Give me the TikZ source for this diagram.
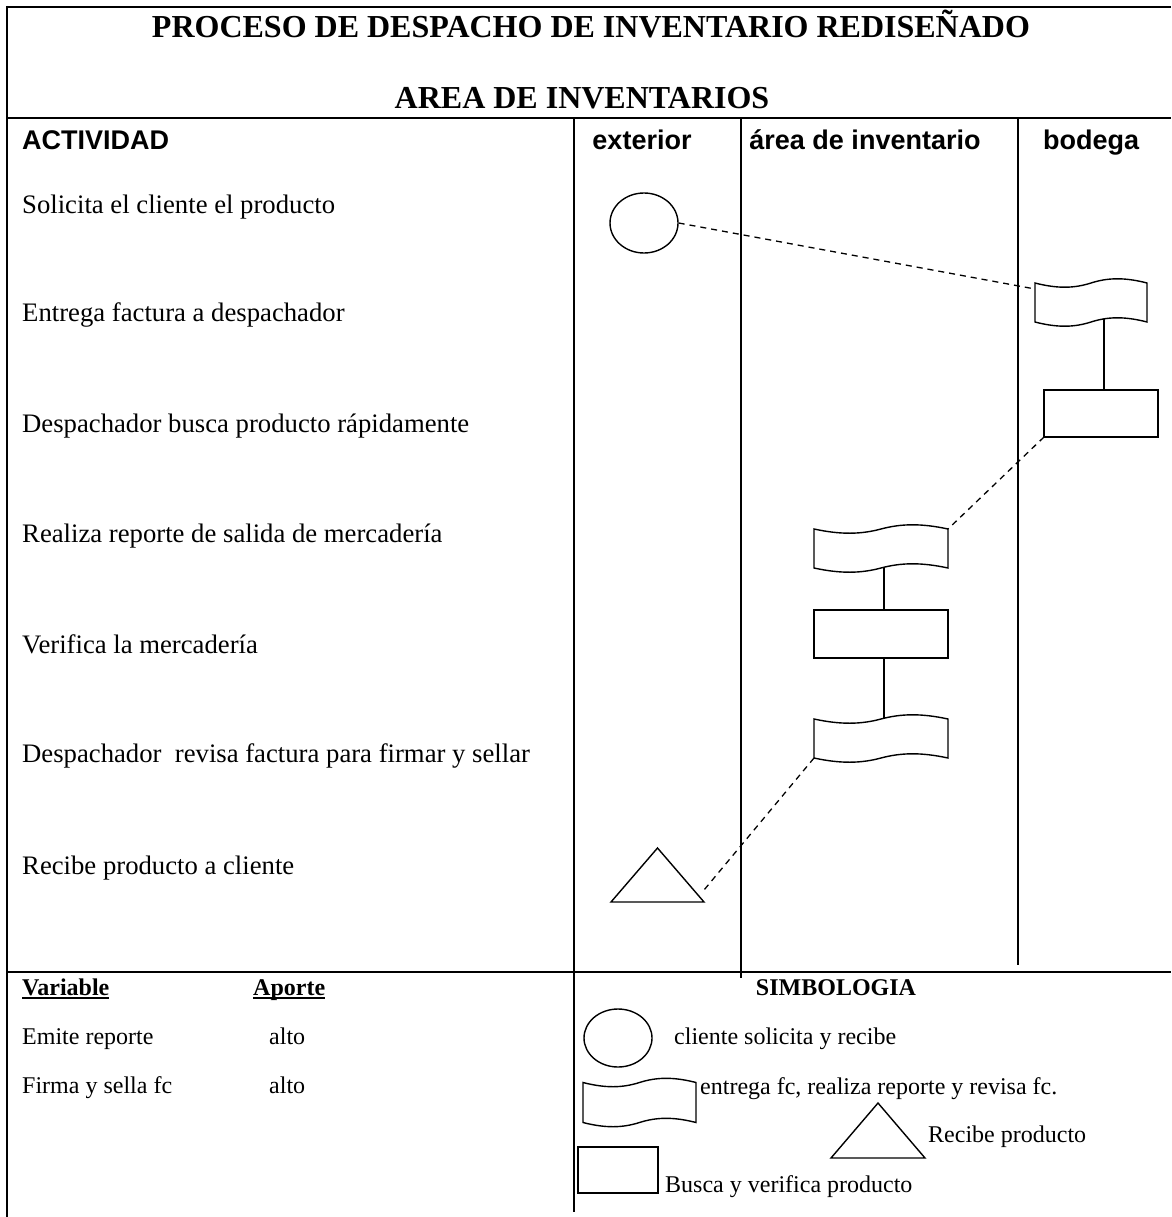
\documentclass[tikz,border=0pt]{standalone}
\usepackage{fontspec}
\setmainfont{Liberation Serif}
\newfontfamily\headfont{Liberation Sans}
\usetikzlibrary{calc,shapes.geometric}

% wavy "punched tape" outline drawn over an invisible box node
\newcommand\tapeoutline[1]{%
  \draw[shp] let \p1=($(#1.north east)-(#1.north west)$) in
    (#1.north west)
    .. controls +({0.2*\x1},-5.8pt) and +({-0.15*\x1},-5.4pt) .. (#1.north)
    .. controls +({0.15*\x1},5.4pt) and +({-0.2*\x1},5.8pt) .. (#1.north east)
    -- (#1.south east)
    .. controls +({-0.2*\x1},5.8pt) and +({0.15*\x1},5.4pt) .. (#1.south)
    .. controls +({-0.15*\x1},-5.4pt) and +({0.2*\x1},-5.8pt) .. (#1.south west)
    -- cycle;}
% triangle drawn over an invisible box node
\newcommand\triangleoutline[1]{%
  \draw[shp, line join=miter] (#1.south west) -- (#1.south east) -- (#1.north) -- cycle;}
% bold text with a heavy underline
\newcommand\ulbold[1]{\setbox0\hbox{#1}\rlap{\rule[-3.5pt]{\wd0}{1.8pt}}\box0}

\begin{document}
\begin{tikzpicture}[x=1pt,y=-1pt,
  vline/.style={line width=1.5pt},
  hrule/.style={line width=2.4pt},
  shp/.style={draw, line width=1.4pt},
  box/.style={draw=none, inner sep=0pt, outer sep=0pt},
  rectbox/.style={shp, inner sep=0pt, outer sep=0pt},
  flow/.style={line width=1.3pt, dash pattern=on 6pt off 5pt},
  link/.style={line width=1.3pt},
  act/.style={anchor=base west, inner sep=0pt, font=\fontsize{26.7}{30}\selectfont},
  leg/.style={anchor=base west, inner sep=0pt, font=\fontsize{24}{28}\selectfont},
  legb/.style={leg, font=\bfseries\fontsize{24}{28}\selectfont},
  head/.style={anchor=base, inner sep=0pt, font=\headfont\bfseries\fontsize{27}{30}\selectfont},
  ttl/.style={anchor=base, inner sep=0pt, font=\bfseries\fontsize{32}{36}\selectfont},
]
\useasboundingbox (0,0) rectangle (1171,1217);
\fill[white] (0,0) rectangle (1171,1217);

% table rules
\draw[hrule] (6,7) -- (1171,7);
\draw[vline] (7,6) -- (7,1217);
\draw[hrule] (7,118) -- (1171,118);
\draw[hrule] (7,972) -- (1171,972);
\draw[vline] (574,118) -- (574,1212);
\draw[vline] (741,118) -- (741,978);
\draw[vline] (1018,118) -- (1018,965);

% title
\node[ttl] (title1) at (591,38) {PROCESO DE DESPACHO DE INVENTARIO REDISEÑADO};
\node[ttl] (title2) at (582,109) {AREA DE INVENTARIOS};

% column headers
\node[head, anchor=base west] (hact) at (22,150) {ACTIVIDAD};
\node[head] (hext) at (642,150) {exterior};
\node[head] (hinv) at (865,150) {área de inventario};
\node[head] (hbod) at (1091,150) {bodega};

% activities
\node[act] (a1) at (22,213) {Solicita el cliente el producto};
\node[act] (a2) at (22,321) {Entrega factura a despachador};
\node[act] (a3) at (22,432) {Despachador busca producto rápidamente};
\node[act] (a4) at (22,542) {Realiza reporte de salida de mercadería};
\node[act] (a5) at (22,653) {Verifica la mercadería};
\node[act] (a6) at (22,762) {Despachador\ \ revisa factura para firmar y sellar};
\node[act] (a7) at (22,874) {Recibe producto a cliente};

% process symbols
\node[shp, ellipse, inner sep=0pt, minimum width=68pt, minimum height=60pt] (c1) at (644,223) {};
\node[box, minimum width=112pt, minimum height=39pt] (d1) at (1091,302.5) {};
\tapeoutline{d1}
\node[rectbox, minimum width=114pt, minimum height=47pt] (r1) at (1101,413.5) {};
\node[box, minimum width=134pt, minimum height=39pt] (d2) at (881,548.5) {};
\tapeoutline{d2}
\node[rectbox, minimum width=134pt, minimum height=48pt] (r2) at (881,634) {};
\node[box, minimum width=134pt, minimum height=39pt] (d3) at (881,738.5) {};
\tapeoutline{d3}
\node[box, minimum width=93pt, minimum height=54pt] (t1) at (657.5,875) {};
\triangleoutline{t1}

% connectors
\draw[flow] (c1.east) -- ($(d1.north west)+(0,-6pt)$);
\draw[link] ($(d1.south)+(13pt,3pt)$) -- ($(r1.north)+(3pt,0)$);
\draw[flow] (r1.south west) -- (d2.north east);
\draw[link] ($(d2.south)+(3pt,1pt)$) -- ($(r2.north)+(3pt,0)$);
\draw[link] ($(r2.south)+(3pt,0)$) -- ($(d3.north)+(3pt,1pt)$);
\draw[flow] (d3.south west) -- ($(t1.south east)+(0,12pt)$);

% contribution table
\node[legb] (vv) at (22,995) {\ulbold{Variable}};
\node[legb] (va) at (253,995) {\ulbold{Aporte}};
\node[leg] (v1) at (22,1044) {Emite reporte};
\node[leg] (v1a) at (269,1044) {alto};
\node[leg] (v2) at (22,1093) {Firma y sella fc};
\node[leg] (v2a) at (269,1093) {alto};

% symbol legend
\node[legb, anchor=base] (sym) at (836,995) {SIMBOLOGIA};
\node[shp, ellipse, inner sep=0pt, minimum width=68pt, minimum height=58pt] (lc) at (618,1038) {};
\node[leg] (lct) at (674,1044) {cliente solicita y recibe};
\node[box, minimum width=113pt, minimum height=40pt] (ld) at (639.5,1102.5) {};
\tapeoutline{ld}
\node[leg] (ldt) at (700,1094) {entrega fc, realiza reporte y revisa fc.};
\node[box, minimum width=94pt, minimum height=55pt] (lt) at (878,1130.5) {};
\triangleoutline{lt}
\node[leg] (ltt) at (928,1142) {Recibe producto};
\node[rectbox, minimum width=80pt, minimum height=46pt] (lr) at (618,1170) {};
\node[leg] (lrt) at (665,1192) {Busca y verifica producto};
\end{tikzpicture}
\end{document}
